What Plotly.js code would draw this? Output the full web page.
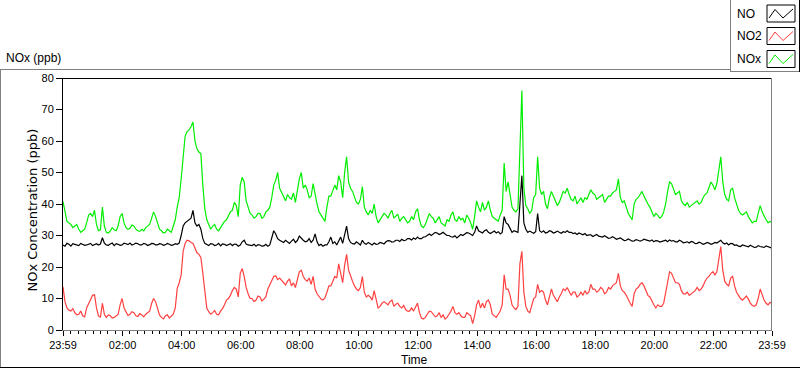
<!DOCTYPE html>
<html>
<head>
<meta charset="utf-8">
<script src="https://cdn.plot.ly/plotly-3.0.1.min.js"></script>
<style>html,body{margin:0;padding:0;background:#fff;}#chart{width:800px;height:369px;}</style>
</head>
<body>
<div id="chart"></div>
<script>
// Sampling: one reading every 4 minutes from 23:59 to 23:59 next day
const startTime = Date.UTC(2000, 0, 1, 23, 59);
const stepMinutes = 4;

const NOx = [
40.8,37.0,34.5,34.0,33.5,32.5,33.0,33.5,32.0,31.0,31.5,32.0,34.0,36.5,37.0,36.0,38.0,33.5,31.5,31.8,
39.0,33.0,31.0,30.8,31.5,32.5,31.8,31.5,33.0,36.0,37.0,34.0,32.5,32.0,32.3,33.3,33.0,32.0,31.5,31.3,
32.0,31.5,32.5,33.0,33.5,35.5,37.5,36.0,34.0,32.0,31.5,30.8,31.0,32.0,31.5,31.0,33.0,35.0,39.0,42.0,
48.0,55.0,61.5,63.0,63.5,64.5,66.0,60.0,57.5,56.5,56.0,46.0,38.5,35.0,33.5,32.0,33.0,33.5,32.0,31.5,
32.5,33.5,34.5,35.0,36.5,37.5,38.0,40.5,39.5,36.0,46.0,48.5,47.0,41.0,39.0,37.0,36.5,35.5,36.0,37.0,
37.0,35.5,36.0,37.5,38.0,39.0,42.0,46.0,47.5,50.0,45.0,43.5,42.0,41.0,43.0,42.0,41.5,43.5,40.5,44.0,
48.0,50.0,45.0,46.0,44.5,42.0,42.5,46.5,43.0,40.0,37.5,36.5,35.5,34.5,39.0,42.5,42.5,44.0,46.0,44.5,
49.0,47.0,42.0,50.0,55.0,47.0,45.0,44.0,42.0,40.5,40.0,41.5,45.5,39.0,37.5,36.5,38.0,37.0,40.0,36.0,
34.0,35.0,36.0,37.0,36.5,35.5,37.0,38.0,35.5,36.0,36.8,34.5,35.5,36.0,35.0,34.0,34.5,36.0,35.0,37.5,
38.5,35.0,33.0,32.5,33.5,35.5,37.0,36.0,35.5,34.0,35.0,36.0,34.0,33.5,33.0,35.0,34.5,36.5,37.5,35.0,
34.5,36.0,35.0,35.5,34.0,36.5,35.5,34.0,32.0,36.0,41.0,39.0,37.5,40.5,38.0,39.0,41.0,38.0,36.0,35.5,
35.0,34.5,36.5,38.0,53.0,44.0,47.0,43.0,39.0,38.0,37.5,38.5,61.0,76.0,45.0,39.5,38.5,37.0,38.0,42.0,
43.0,55.0,45.0,43.0,44.0,40.0,38.5,42.0,44.0,42.5,41.0,39.5,40.5,42.0,44.0,43.5,45.0,43.0,41.5,41.0,
42.5,40.0,41.0,42.0,40.5,42.0,41.5,43.0,44.5,43.5,43.0,41.5,42.0,42.5,43.0,40.5,41.5,42.5,42.5,43.5,
44.0,44.5,48.0,42.0,40.5,41.0,39.0,37.0,36.0,35.0,40.0,41.5,42.0,43.0,44.0,42.5,41.0,40.0,39.0,37.5,
36.0,37.0,36.5,35.5,36.0,37.5,40.0,44.0,47.0,46.5,45.0,43.0,43.5,44.0,41.0,40.0,39.5,40.5,39.0,39.5,
40.0,40.5,41.0,40.0,40.5,42.0,43.0,43.5,45.0,47.0,46.0,44.5,46.5,51.0,55.0,47.0,43.0,41.5,41.0,44.5,
45.0,42.0,40.0,38.0,37.0,36.5,37.0,37.5,36.0,35.0,34.0,34.5,34.5,37.0,39.5,37.5,36.0,35.0,34.0,34.5,34.0
];

const NO = [
27.0,26.6,27.5,27.2,26.6,27.4,27.2,26.9,26.8,27.5,27.3,26.9,27.0,27.3,27.5,26.8,27.0,27.4,27.0,27.3,
29.3,27.6,27.0,26.9,27.3,27.6,26.8,27.4,27.2,26.9,27.0,27.6,27.4,27.1,27.6,27.0,27.2,27.6,27.4,27.0,
27.0,27.5,27.3,26.8,27.1,27.5,27.4,27.0,27.0,27.4,27.3,26.9,27.1,27.5,27.2,26.9,27.0,27.4,27.2,27.6,
30.0,33.0,34.0,34.5,35.0,35.5,38.0,34.0,33.0,33.5,32.0,29.0,27.5,27.2,26.8,27.4,27.3,26.8,27.0,27.5,
26.7,27.3,27.2,26.8,27.0,27.4,26.8,27.3,27.2,26.6,27.0,28.0,28.5,27.3,27.0,26.9,26.8,27.2,26.6,27.1,
27.0,26.6,26.7,27.2,26.6,27.0,29.5,31.5,30.5,29.0,28.5,28.0,27.8,28.5,28.0,27.5,28.2,28.8,27.8,28.4,
29.8,29.0,28.5,28.0,28.2,29.0,27.8,28.5,30.5,28.0,26.8,27.2,26.6,27.0,27.0,28.0,29.5,27.5,28.0,27.0,
28.2,29.5,27.5,30.0,33.0,29.0,27.8,27.4,27.3,28.0,27.5,27.0,28.5,27.5,27.2,27.8,27.4,27.0,27.6,27.2,
27.3,27.8,27.6,27.3,28.0,28.4,28.3,27.9,28.0,28.5,28.5,28.1,28.8,28.4,28.5,29.0,29.0,28.6,29.2,28.8,
29.5,29.0,29.0,29.5,29.6,30.0,30.5,30.0,30.5,31.0,30.8,30.3,30.6,31.0,30.5,30.0,30.0,29.6,29.5,29.9,
29.2,29.8,30.3,30.0,30.5,30.9,30.8,30.3,30.0,31.0,33.0,31.5,31.2,30.8,31.5,31.8,31.0,30.6,31.0,31.4,
30.8,31.2,30.5,31.0,36.0,34.0,33.5,32.0,31.0,31.5,31.2,31.0,40.0,49.0,34.0,32.0,31.0,31.4,31.0,30.7,
31.2,37.0,31.5,31.0,31.5,30.8,31.0,31.5,31.3,30.8,31.0,31.4,31.0,30.7,31.2,31.0,31.5,31.0,31.0,30.6,
30.8,30.3,30.8,30.4,30.2,30.6,30.0,30.2,30.2,29.7,30.0,30.3,29.8,29.6,29.5,29.9,29.5,29.1,29.2,29.6,
29.3,28.8,29.0,29.2,28.8,28.4,28.5,28.9,28.6,28.2,28.3,28.7,28.5,28.2,28.4,28.8,28.6,28.3,28.2,28.6,
28.0,28.4,28.3,27.9,28.0,28.3,28.5,28.0,28.6,28.2,28.4,28.0,28.0,28.5,28.2,27.7,27.8,28.0,27.6,28.1,
27.9,27.4,27.5,27.9,27.6,27.2,27.4,27.8,27.6,27.2,27.4,27.8,27.6,28.0,28.5,27.7,27.3,27.6,27.0,27.5,
27.4,26.9,27.0,26.6,26.5,27.0,26.8,26.4,26.4,26.9,26.6,26.2,26.3,26.8,26.5,26.3,26.2,26.7,26.5,26.3,26.0
];

const NO2 = [
13.7,9.0,7.0,6.3,6.0,6.8,5.5,4.8,5.0,6.0,4.5,4.2,7.0,8.5,10.0,11.0,11.2,7.0,4.5,4.0,
8.5,5.0,4.0,4.8,4.5,3.8,4.0,4.6,5.0,8.0,10.0,7.0,5.5,4.6,5.0,5.8,5.5,4.5,4.3,5.2,
4.8,4.2,5.0,5.5,6.0,8.5,10.0,9.0,7.0,4.8,4.0,3.5,4.5,4.8,3.8,4.3,5.0,7.0,13.2,15.0,
17.5,25.0,27.5,28.5,28.3,27.8,27.5,26.0,24.5,24.0,23.0,18.0,13.0,7.0,5.8,5.0,5.5,6.2,5.0,4.8,
6.0,6.8,8.0,9.5,10.0,11.0,12.5,13.5,13.0,10.5,18.0,19.5,17.0,13.5,11.5,10.0,10.0,9.0,9.5,10.8,
10.5,9.2,9.8,10.5,13.0,14.5,15.5,17.0,17.2,16.0,16.5,15.8,15.0,14.3,15.5,16.2,14.0,15.0,13.5,16.0,
18.5,19.0,17.0,16.0,15.5,16.5,14.5,17.0,13.0,11.5,10.5,9.8,9.5,10.2,12.0,14.0,14.0,15.5,17.0,16.5,
21.0,18.0,15.0,20.5,24.0,19.0,17.0,15.5,14.0,13.0,12.5,13.5,17.0,12.0,10.5,11.0,10.5,9.5,12.5,10.0,
7.0,7.5,8.5,9.0,8.5,8.0,9.0,9.5,7.5,8.2,8.5,7.5,7.0,7.8,6.5,6.0,6.0,7.0,6.0,7.5,
8.5,5.5,3.8,3.5,4.0,5.0,6.0,5.8,5.0,4.2,4.5,5.5,4.0,4.8,3.5,4.0,5.0,6.0,7.5,5.5,
5.0,5.5,4.5,4.0,4.0,5.5,5.0,4.5,2.0,4.5,8.0,9.5,7.0,8.5,7.0,9.0,9.5,8.0,5.0,4.5,
4.0,5.0,6.0,8.0,17.5,13.0,13.0,11.0,8.0,7.0,6.5,7.5,21.0,25.0,12.0,7.5,6.0,5.5,8.0,10.0,
10.5,14.5,12.0,12.5,12.0,9.5,8.0,10.5,13.0,11.0,10.0,9.0,10.5,11.5,13.0,12.5,13.5,12.0,11.0,12.0,
12.0,10.5,11.0,12.0,11.0,12.5,11.5,12.0,14.5,13.0,13.0,12.0,12.5,13.5,13.0,11.5,12.0,13.5,13.0,14.0,
14.5,15.0,18.0,14.0,12.5,12.0,11.0,9.5,8.5,7.5,11.5,13.0,13.5,14.5,15.0,14.0,12.5,11.0,10.5,9.0,
8.0,7.0,8.0,7.5,7.5,8.5,12.0,16.0,18.5,18.0,16.5,15.0,15.0,14.5,12.5,11.5,11.5,12.0,11.0,11.5,
12.0,12.5,13.5,12.5,13.0,14.0,15.5,16.5,17.0,18.0,18.5,17.5,18.5,23.0,26.5,19.0,15.5,14.5,14.0,16.5,
17.0,14.0,12.0,11.0,10.0,9.5,10.0,10.8,9.8,8.5,7.8,7.5,8.0,10.0,13.0,11.0,9.5,8.5,8.0,8.8,8.3
];

const tickTimes = ['2000-01-01 23:59','2000-01-02 02:00','2000-01-02 04:00','2000-01-02 06:00',
  '2000-01-02 08:00','2000-01-02 10:00','2000-01-02 12:00','2000-01-02 14:00','2000-01-02 16:00',
  '2000-01-02 18:00','2000-01-02 20:00','2000-01-02 22:00','2000-01-02 23:59'];
const tickLabels = ['23:59','02:00','04:00','06:00','08:00','10:00','12:00','14:00','16:00',
  '18:00','20:00','22:00','23:59'];
const yTicks = [0,10,20,30,40,50,60,70,80];

const seriesNames = ['NO','NO2','NOx'];
const seriesColors = ['#000000','#ff4040','#00ee00'];

function pad(n){return (n<10?'0':'')+n;}
function fmt(ms){const d=new Date(ms);return d.getUTCFullYear()+'-'+pad(d.getUTCMonth()+1)+'-'+pad(d.getUTCDate())+' '+pad(d.getUTCHours())+':'+pad(d.getUTCMinutes());}
const times = NOx.map((_, i) => fmt(startTime + i*stepMinutes*60000));

const traces = [
  {x: times, y: NOx, type:'scatter', mode:'lines', name:'NOx', line:{color:seriesColors[2], width:1.2}, hoverinfo:'skip'},
  {x: times, y: NO2, type:'scatter', mode:'lines', name:'NO2', line:{color:seriesColors[1], width:1.2}, hoverinfo:'skip'},
  {x: times, y: NO, type:'scatter', mode:'lines', name:'NO', line:{color:seriesColors[0], width:1.2}, hoverinfo:'skip'}
];

// pixel -> paper helpers
const L=63, T=78, W=709, H=252;
const px = x => (x-L)/W;
const py = y => (T+H-y)/H;
function hline(x0,x1,y,color){return {type:'line',xref:'paper',yref:'paper',x0:px(x0),x1:px(x1),y0:py(y),y1:py(y),line:{color:color,width:1}};}
function vline(x,y0,y1,color){return {type:'line',xref:'paper',yref:'paper',x0:px(x),x1:px(x),y0:py(y0),y1:py(y1),line:{color:color,width:1}};}

const shapes = [
  hline(63,772,78.5,'#000'),
  vline(771.5,78,330,'#808080'),
  hline(0,730,69.5,'#808080'),
  vline(0.5,69,368,'#808080'),
  hline(0,800,367.5,'#000'),
  vline(730.5,0,72,'#808080'),
  hline(730,799,71.5,'#808080'),
  vline(799.5,0,72,'#000')
];
const annotations = [
  {xref:'paper',yref:'paper',x:px(4),y:py(58),xanchor:'left',yanchor:'middle',text:'NOx (ppb)',showarrow:false,font:{size:12,color:'#000'}},
  {xref:'paper',yref:'paper',x:px(31.5),y:py(210),xanchor:'center',yanchor:'middle',textangle:-90,text:'NOx Concentration (ppb)',showarrow:false,font:{family:'"DejaVu Sans", sans-serif',size:13,color:'#000'}},
  {xref:'paper',yref:'paper',x:px(414),y:py(360),xanchor:'center',yanchor:'middle',text:'Time',showarrow:false,font:{size:12,color:'#000'}}
];
const centers = [13.5, 36, 59];
seriesNames.forEach((nm, k) => {
  const c = centers[k];
  shapes.push({type:'rect',xref:'paper',yref:'paper',x0:px(767),x1:px(795),y0:py(c-8.5),y1:py(c+8.5),line:{color:'#000',width:1},fillcolor:'#fff'});
  shapes.push({type:'path',xref:'paper',yref:'paper',
    path:'M '+px(769)+','+py(c+4.5)+' L '+px(775)+','+py(c-4)+' L '+px(783)+','+py(c+4.5)+' L '+px(793)+','+py(c-4.5),
    line:{color:seriesColors[k],width:1}});
  annotations.push({xref:'paper',yref:'paper',x:px(735),y:py(c),xanchor:'left',yanchor:'middle',text:nm,showarrow:false,font:{size:12,color:'#000'}});
});

const layout = {
  width:800, height:369,
  margin:{l:L, r:800-772, t:T, b:369-330, pad:0},
  paper_bgcolor:'#fff', plot_bgcolor:'#fff',
  font:{family:'"Liberation Sans", Arial, sans-serif', size:11, color:'#000'},
  showlegend:false,
  xaxis:{type:'date', range:[tickTimes[0], tickTimes[tickTimes.length-1]], tickmode:'array', tickvals:tickTimes, ticktext:tickLabels,
    ticks:'outside', ticklen:5, tickcolor:'#000', tickwidth:1, showgrid:false, zeroline:false,
    showline:true, linecolor:'#808080', linewidth:1, tickfont:{size:11,color:'#000'},
    minor:{ticks:'outside', ticklen:3, tickcolor:'#000', tickwidth:1, tickmode:'linear', tick0:'2000-01-02 00:00', dtick:900000, showgrid:false}},
  yaxis:{range:[0,80], tickmode:'array', tickvals:yTicks, ticks:'outside', ticklen:6, tickcolor:'#000', tickwidth:1,
    showgrid:false, zeroline:false, showline:true, linecolor:'#000', linewidth:1, tickfont:{size:11,color:'#000'}},
  shapes:shapes, annotations:annotations
};
Plotly.newPlot('chart', traces, layout, {staticPlot:true, displayModeBar:false});
</script>
</body>
</html>
